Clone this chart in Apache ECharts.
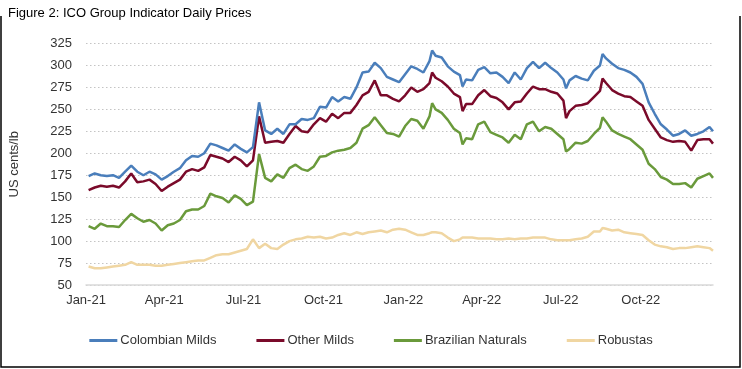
<!DOCTYPE html>
<html>
<head>
<meta charset="utf-8">
<script src="https://cdn.jsdelivr.net/npm/echarts@6/dist/echarts.min.js"></script>
<style>
html,body{margin:0;padding:0;background:#fff;}
#c{width:742px;height:369px;}
</style>
</head>
<body>
<div id="c"></div>
<script>
const dates = [
'2021-01-04','2021-01-11','2021-01-18','2021-01-25','2021-02-01','2021-02-08','2021-02-15','2021-02-22','2021-03-01','2021-03-08','2021-03-15','2021-03-22','2021-03-29','2021-04-05','2021-04-12','2021-04-19','2021-04-26',
'2021-05-03','2021-05-10','2021-05-17','2021-05-24','2021-05-31','2021-06-07','2021-06-14','2021-06-21','2021-06-28','2021-07-05','2021-07-12','2021-07-19','2021-07-26','2021-08-02','2021-08-09','2021-08-16','2021-08-23',
'2021-08-30','2021-09-06','2021-09-13','2021-09-20','2021-09-27','2021-10-04','2021-10-11','2021-10-18','2021-10-25','2021-11-01','2021-11-08','2021-11-15','2021-11-22','2021-11-29','2021-12-06','2021-12-13','2021-12-20','2021-12-27',
'2022-01-03','2022-01-10','2022-01-17','2022-01-24','2022-01-31','2022-02-03','2022-02-07','2022-02-14','2022-02-21','2022-02-28','2022-03-07','2022-03-10','2022-03-14','2022-03-21','2022-03-28','2022-04-04','2022-04-11','2022-04-18','2022-04-25',
'2022-05-02','2022-05-09','2022-05-16','2022-05-23','2022-05-30','2022-06-06','2022-06-13','2022-06-20','2022-06-27','2022-07-04','2022-07-07','2022-07-11','2022-07-18','2022-07-25','2022-08-01','2022-08-08','2022-08-15','2022-08-18','2022-08-22','2022-08-29',
'2022-09-05','2022-09-12','2022-09-19','2022-09-26','2022-10-03','2022-10-10','2022-10-17','2022-10-24','2022-10-31','2022-11-07','2022-11-14','2022-11-21','2022-11-28','2022-12-05','2022-12-12','2022-12-19','2022-12-23'
];
const colombianMilds = [
174,177,175,174,175,172,179,186,179,175,179,176,170,174,179,183,192,
197,196,200,211,209,206,203,210,205,201,207,258,226,222,228,222,233,
233,239,238,240,253,252,264,259,264,262,275,292,293,303,297,287,284,281,
290,299,296,292,305,317,311,309,299,293,289,276,284,283,295,298,291,292,287,
280,292,284,297,304,297,303,297,292,284,274,283,288,285,283,294,300,313,308,302,
297,295,292,287,279,258,245,233,227,220,222,226,220,222,225,230,225
];
const otherMilds = [
158,161,163,162,163,161,168,177,167,168,170,165,157,162,166,170,179,
182,180,184,198,196,194,190,196,192,185,192,242,212,213,214,212,222,
231,225,224,233,240,236,245,240,246,246,255,266,270,283,266,266,262,259,
266,275,270,273,280,292,286,282,276,268,264,248,256,256,266,272,265,263,258,
250,258,259,268,276,273,273,270,268,260,240,248,254,255,257,264,271,285,280,272,
268,265,264,259,254,238,228,218,215,213,214,213,203,215,216,216,211
];
const brazilianNaturals = [
117,114,120,117,117,116,124,131,126,122,124,120,112,118,120,124,134,
136,136,140,154,151,149,144,152,148,141,145,199,172,168,176,172,183,
187,182,180,185,196,197,201,203,204,206,212,228,232,241,232,223,222,219,
231,239,237,228,242,257,250,246,238,228,223,210,217,216,233,236,224,221,218,
212,221,216,233,236,225,230,228,222,216,202,205,212,211,214,222,229,241,236,226,
222,219,216,210,204,188,182,173,170,165,165,166,161,171,174,177,172
];
const robustas = [
71,69,69,70,71,72,73,76,73,73,73,72,72,73,74,75,76,
77,78,78,81,84,85,85,87,89,91,102,92,97,92,91,96,100,
102,103,105,104,105,103,104,107,109,107,110,108,110,111,112,110,113,114,
113,110,107,107,109,110,110,109,104,100,102,104,104,104,103,103,103,102,102,
103,102,103,103,104,104,104,102,101,101,101,101,102,103,105,111,111,115,114,112,
113,110,109,108,107,101,96,94,93,91,92,92,93,94,93,92,89
];
const seriesNames = ['Colombian Milds','Other Milds','Brazilian Naturals','Robustas'];
const seriesColors = ['#4a7ebb','#7a0a2a','#6a9a3b','#f0d6a2'];
const seriesValues = [colombianMilds, otherMilds, brazilianNaturals, robustas];
const xTickDates = ['2021-01-01','2021-04-01','2021-07-01','2021-10-01','2022-01-01','2022-04-01','2022-07-01','2022-10-01'];
const monthAbbr = ['Jan','Feb','Mar','Apr','May','Jun','Jul','Aug','Sep','Oct','Nov','Dec'];

function toTs(s){const p=s.split('-');return Date.UTC(+p[0],+p[1]-1,+p[2]);}

const chart = echarts.init(document.getElementById('c'), null, {renderer:'canvas'});
const font = '"Liberation Sans", Arial, sans-serif';
chart.setOption({
  animation:false,
  backgroundColor:'#fff',
  textStyle:{fontFamily:font},
  title:{text:'Figure 2: ICO Group Indicator Daily Prices',left:3,top:2,
    textStyle:{fontSize:13,fontWeight:'normal',color:'#000',fontFamily:font}},
  grid:{left:81,right:29,top:43.5,bottom:84,containLabel:false},
  legend:{data:seriesNames,left:'center',top:329,icon:'rect',itemWidth:28,itemHeight:3,itemGap:40,
    textStyle:{fontSize:13,color:'#333',padding:[0,0,0,-2]}},
  xAxis:{type:'value',min:toTs('2021-01-01'),max:toTs('2022-12-23'),
    axisLine:{show:true,onZero:false,lineStyle:{color:'#d9d9d9',width:1.5}},
    axisTick:{show:false},
    splitLine:{show:false},
    axisLabel:{customValues:xTickDates.map(toTs),margin:9,fontSize:13,color:'#333',
      showMinLabel:true,showMaxLabel:true,hideOverlap:false,
      formatter:function(v){const d=new Date(v);return monthAbbr[d.getUTCMonth()]+'-'+String(d.getUTCFullYear()).slice(2);}}
  },
  yAxis:{type:'value',min:50,max:325,interval:25,
    name:'US cents/lb',nameLocation:'middle',nameGap:65,nameRotate:90,
    nameTextStyle:{fontSize:13,color:'#333'},
    axisLine:{show:false},axisTick:{show:false},
    axisLabel:{margin:14,fontSize:13,color:'#333'},
    splitLine:{lineStyle:{color:'#c4c4c4',type:[1.5,2.5],width:1.2}}
  },
  graphic:[{type:'polyline',shape:{points:[[1,16],[1,367],[740,367],[740,16]]},
    style:{stroke:'#000',lineWidth:1.5,fill:null},silent:true}],
  series:seriesNames.map((n,i)=>({
    name:n,type:'line',showSymbol:false,symbol:'none',
    data:dates.map((d,j)=>[toTs(d),seriesValues[i][j]]),
    lineStyle:{color:seriesColors[i],width:2.5},
    itemStyle:{color:seriesColors[i]},
    emphasis:{disabled:true},z:10-i
  }))
});
</script>
</body>
</html>
